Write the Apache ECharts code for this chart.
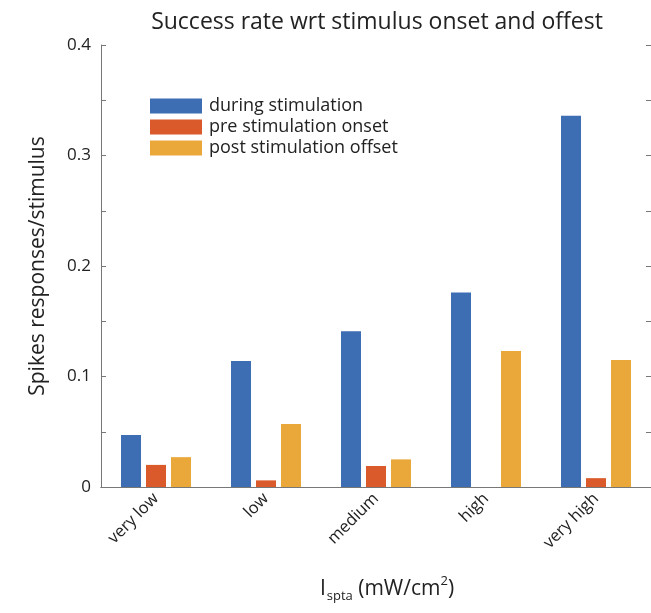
<!DOCTYPE html>
<html>
<head>
<meta charset="utf-8">
<script src="https://cdn.jsdelivr.net/npm/echarts@6/dist/echarts.min.js"></script>
<style>html,body{margin:0;padding:0;background:#fff;}#c{width:651px;height:613px;}</style>
</head>
<body>
<div id="c"></div>
<script>
const categories = ['very low', 'low', 'medium', 'high', 'very high'];
const seriesNames = ['during stimulation', 'pre stimulation onset', 'post stimulation offset'];
const during = [0.047, 0.114, 0.141, 0.176, 0.336];
const preOnset = [0.020, 0.006, 0.019, 0, 0.008];
const postOffset = [0.027, 0.057, 0.025, 0.123, 0.115];
const colors = ['#3d6db2', '#da5a2b', '#eaa83a'];

const chart = echarts.init(document.getElementById('c'));
const FONT = '"Open Sans", "Noto Sans", sans-serif';
const axisCol = '#777';
const yFmt = v => {
  const k = Math.round(v * 100);
  if (k % 10 !== 0) return '';
  return k === 0 ? '0' : (k / 100).toFixed(1);
};
const mkSeries = (name, data, i) => ({
  name, type: 'bar', data, xAxisIndex: 0, yAxisIndex: 0,
  barWidth: 20, barGap: '25%',
  itemStyle: { color: colors[i] }
});
chart.setOption({
  animation: false,
  textStyle: { fontFamily: FONT },
  title: {
    text: 'Success rate wrt stimulus onset and offest',
    left: 372, top: 6, textAlign: 'center',
    textStyle: { fontFamily: FONT, fontSize: 23, fontWeight: 'normal', color: '#222' }
  },
  legend: {
    orient: 'vertical', left: 145, top: 92,
    itemWidth: 52, itemHeight: 15, itemGap: 3,
    icon: 'rect',
    data: seriesNames,
    textStyle: { fontFamily: FONT, fontSize: 18, color: '#222', padding: [0, 0, 0, 2] }
  },
  grid: { left: 101, right: -4, top: 45, bottom: 126 },
  xAxis: [{
    type: 'category', data: categories, position: 'bottom',
    axisLine: { lineStyle: { color: axisCol } },
    axisTick: { inside: true, alignWithLabel: true, length: 5, lineStyle: { color: axisCol } },
    axisLabel: { rotate: 45, fontSize: 16.5, color: '#222', margin: 9, fontFamily: FONT },
    name: '{i|I}{s|spta}{t| (mW/cm}{p|2}{t|)}',
    nameLocation: 'middle', nameGap: 88,
    nameTextStyle: {
      padding: [0, 0, 0, 22],
      rich: {
        i: { fontSize: 21, color: '#222', fontFamily: FONT },
        s: { fontSize: 13, color: '#222', fontFamily: FONT, verticalAlign: 'bottom', padding: [15, 0, 0, 1] },
        t: { fontSize: 21, color: '#222', fontFamily: FONT },
        p: { fontSize: 13, color: '#222', fontFamily: FONT, verticalAlign: 'top', padding: [0, 0, 11, 0] }
      }
    }
  }, {
    type: 'category', data: categories, position: 'top',
    axisLine: { lineStyle: { color: axisCol } },
    axisTick: { inside: true, alignWithLabel: true, length: 5, lineStyle: { color: axisCol } },
    axisLabel: { show: false }
  }],
  yAxis: [{
    type: 'value', min: 0, max: 0.4, interval: 0.05, position: 'left',
    splitLine: { show: false },
    axisLine: { show: true, lineStyle: { color: axisCol } },
    axisTick: { show: true, inside: true, length: 5, lineStyle: { color: axisCol } },
    axisLabel: { formatter: yFmt, fontSize: 17, color: '#222', margin: 10, fontFamily: FONT },
    name: 'Spikes responses/stimulus', nameLocation: 'middle', nameGap: 52,
    nameTextStyle: { fontSize: 21, color: '#222', fontFamily: FONT }
  }, {
    type: 'value', min: 0, max: 0.4, interval: 0.05, position: 'right',
    splitLine: { show: false },
    axisLine: { show: true, lineStyle: { color: axisCol } },
    axisTick: { show: true, inside: true, length: 5, lineStyle: { color: axisCol } },
    axisLabel: { show: false }
  }],
  series: [
    mkSeries(seriesNames[0], during, 0),
    mkSeries(seriesNames[1], preOnset, 1),
    mkSeries(seriesNames[2], postOffset, 2)
  ]
});
</script>
</body>
</html>
